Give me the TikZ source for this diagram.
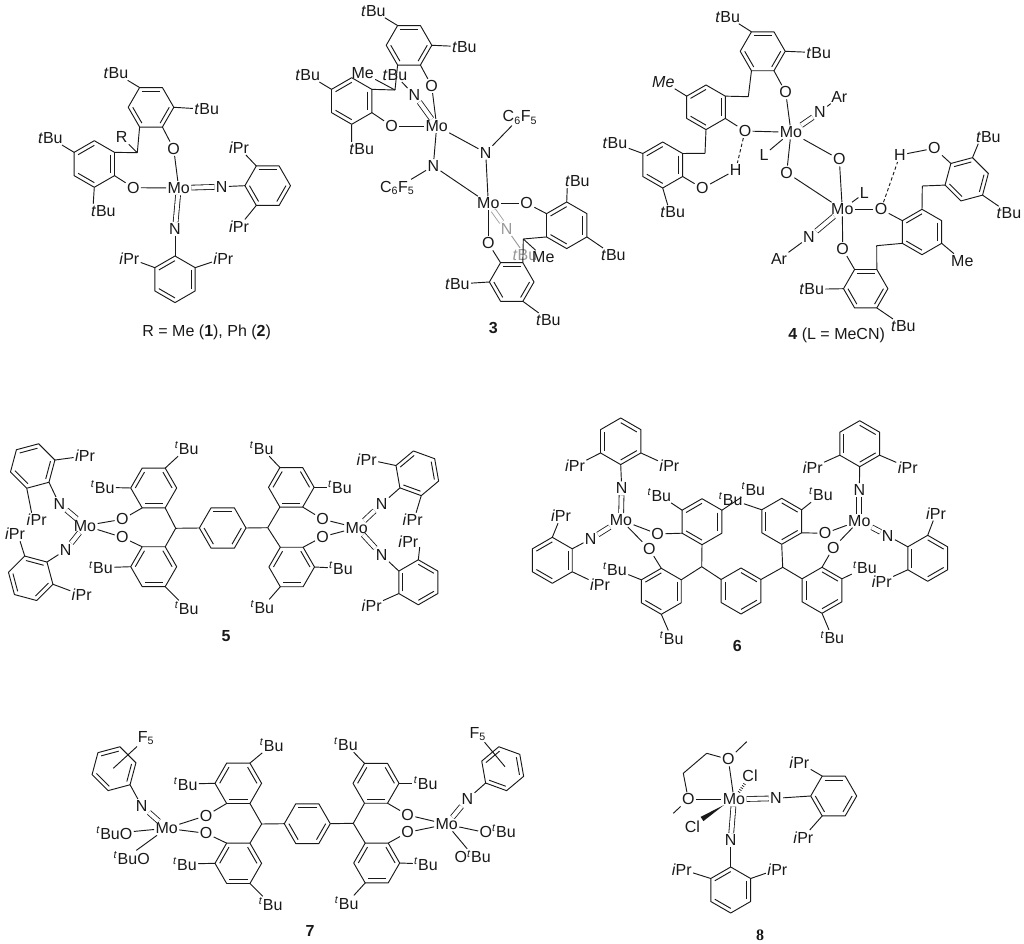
\documentclass[tikz,border=0pt]{standalone}
\usepackage{fontspec}
\setmainfont{Liberation Sans}
\newfontfamily\serifnum{Liberation Serif}
\usetikzlibrary{calc}
\newcommand\tBu{\textit{t}Bu}
\newcommand\iPr{\textit{i}Pr}
\newcommand\sBu{\textsuperscript{\textit{t}}Bu}
\newcommand\CF{C\textsubscript{6}F\textsubscript{5}}
\tikzset{
  bond/.style={line width=0.7pt,line join=round,black!90},
  dbl/.style={bond,double,double distance=3pt,line width=0.62pt},
  hbond/.style={bond,dashed,dash pattern=on 2.5pt off 1.8pt},
  atom/.style={inner sep=0.9pt,font=\fontsize{12}{13}\selectfont,text=black!90},
  grayatom/.style={atom,text=black!40},
  graybond/.style={bond,draw=black!40},
  graydbl/.style={dbl,draw=black!40},
  hash/.style={line width=2pt,black!90,dash pattern=on 0.5pt off 1.3pt},
  capt/.style={inner sep=0pt,font=\fontsize{12}{13}\selectfont,text=black!90},
}
% ring: name, cx, cy, radius, start angle (clockwise on screen)
\newcommand\hexa[5]{%
  \coordinate (#1c) at (#2,#3);
  \path (#2,#3) ++(#5:#4) coordinate (#10);
  \path (#2,#3) ++(#5+60:#4) coordinate (#11);
  \path (#2,#3) ++(#5+120:#4) coordinate (#12);
  \path (#2,#3) ++(#5+180:#4) coordinate (#13);
  \path (#2,#3) ++(#5+240:#4) coordinate (#14);
  \path (#2,#3) ++(#5+300:#4) coordinate (#15);
  \draw[bond] (#10)--(#11)--(#12)--(#13)--(#14)--(#15)--cycle;
  \draw[bond] ($(#10)!0.2!(#1c)$)--($(#11)!0.2!(#1c)$);
  \draw[bond] ($(#12)!0.2!(#1c)$)--($(#13)!0.2!(#1c)$);
  \draw[bond] ($(#14)!0.2!(#1c)$)--($(#15)!0.2!(#1c)$);
}
\newcommand\A[4]{\node[atom] (#1) at (#2,#3) {#4};}
\newcommand\Ctr[3]{\coordinate (#1) at (#2,#3);}
\newcommand\B[2]{\draw[bond] (#1) -- (#2);}
\newcommand\Dd[2]{\draw[dbl] (#1) -- (#2);}
\newcommand\Hb[2]{\draw[hbond] (#1) -- (#2);}
\begin{document}
\begin{tikzpicture}[x=0.75pt,y=-0.75pt]
\useasboundingbox (0,0) rectangle (1024,944);
\fill[white] (0,0) rectangle (1024,944);

%%%%%%%% 1
\hexa{a}{151}{107.3}{22.8}{0}
\hexa{b}{94.3}{164}{23.3}{-30}
\hexa{c}{267.7}{185.7}{22.8}{0}
\hexa{d}{175}{279.3}{23.3}{-30}
\Ctr{ach}{137.3}{152.7}
\A{aMo}{178.7}{188}{Mo}
\A{aO1}{173.7}{148.7}{O}
\A{aO2}{133.3}{187.7}{O}
\A{aN1}{221.7}{186.7}{N}
\A{aN2}{175}{229}{N}
\A{aR}{121.7}{137.3}{R}
\A{at1}{116}{73.3}{\tBu}
\A{at2}{206.7}{109.3}{\tBu}
\A{at3}{50.3}{138}{\tBu}
\A{at4}{103.3}{211}{\tBu}
\A{ai1}{239}{147.7}{\iPr}
\A{ai2}{239}{226.7}{\iPr}
\A{ai3}{129.3}{258.3}{\iPr}
\A{ai4}{223.3}{258.3}{\iPr}
\B{a4}{at1} \B{a0}{at2} \B{b4}{at3} \B{b2}{at4.145}
\B{a1}{aO1} \B{aO1}{aMo} \B{a2}{ach} \B{ach}{b0} \B{ach}{aR} \B{b1}{aO2} \B{aO2}{aMo}
\Dd{aMo}{aN1} \Dd{aMo}{aN2} \B{aN1}{c3} \B{aN2}{d5}
\B{c4}{ai1} \B{c2}{ai2} \B{d4}{ai3} \B{d0}{ai4}
\node[capt] (capA) at (206.7,332.7) {R = Me (\textbf{1}), Ph (\textbf{2})};

%%%%%%%% 3
\hexa{e}{409}{45.3}{22.8}{0}
\hexa{f}{351.7}{101}{23.3}{-30}
\hexa{g}{566.7}{225.3}{23.3}{-30}
\hexa{h}{511.7}{282}{22.3}{0}
\Ctr{ech}{395}{90}
\Ctr{gch}{523.3}{239}
\A{eMo}{436.7}{126}{Mo}
\A{eMo2}{488.3}{203.3}{Mo}
\A{eO1}{431.7}{86}{O}
\A{eO2}{391.7}{126}{O}
\A{eO3}{526.7}{203.3}{O}
\A{eO4}{488.3}{243.3}{O}
\A{eN1}{433.3}{166}{N}
\A{eN2}{485.7}{152.7}{N}
\A{eN3}{414.3}{95}{N}
\node[grayatom] (eN4) at (506.7,229) {N};
\node[grayatom] (et7) at (525,255) {\tBu};
\A{eMe}{362.7}{72.7}{Me}
\A{eMeb}{543.3}{257.3}{Me}
\A{et1}{373.3}{10.7}{\tBu}
\A{et2}{464.3}{46.7}{\tBu}
\A{et3}{395}{75}{\tBu}
\A{et4}{307.7}{75}{\tBu}
\A{et5}{361.7}{149}{\tBu}
\A{et6}{577.3}{181}{\tBu}
\A{et8}{613.3}{255}{\tBu}
\A{et9}{457.3}{284}{\tBu}
\A{et0}{548.3}{320}{\tBu}
\A{eC1}{520}{117.3}{\CF}
\A{eC2}{397.3}{187.7}{\CF}
\draw[graydbl] (eMo2) -- (eN4);
\draw[graybond] (eN4) -- (et7);
\B{e4}{et1} \B{e0}{et2} \B{e1}{eO1} \B{eO1}{eMo} \B{e2}{ech} \B{ech}{f0} \B{ech}{eMe}
\B{f1}{eO2} \B{eO2}{eMo} \B{f4}{et4} \B{f2}{et5.145}
\Dd{eMo}{eN3} \B{eN3}{et3}
\B{eMo}{eN1} \B{eMo}{eN2} \B{eN1}{eMo2} \B{eN2}{eMo2} \B{eN1}{eC2} \B{eN2}{eC1}
\B{eMo2}{eO3} \B{eMo2}{eO4} \B{eO3}{g4} \B{g5}{et6.215} \B{g1}{et8}
\B{g3}{gch} \B{gch}{h5} \B{gch}{eMeb} \B{eO4}{h4} \B{h3}{et9} \B{h1}{et0}
\node[capt] (capB) at (493.3,328.3) {\textbf{3}};

%%%%%%%% 4
\hexa{i}{762.7}{51.3}{22.5}{0}
\hexa{j}{706}{107.3}{22.3}{-30}
\hexa{k}{662.7}{165}{23}{-30}
\hexa{l}{966.7}{179.3}{22.4}{-15}
\hexa{m}{922}{232}{22.7}{-30}
\hexa{n}{865.7}{288.7}{22.2}{0}
\Ctr{ich}{748.3}{96.7}
\Ctr{jch}{705}{153.3}
\Ctr{lch}{922.3}{186}
\Ctr{mch}{876.7}{245.7}
\A{iMo}{791}{132.3}{Mo}
\A{iMo2}{842.3}{209.3}{Mo}
\A{iO1}{785.7}{92.3}{O}
\A{iO2}{745}{131}{O}
\A{iO3}{702.3}{188.3}{O}
\A{iO4}{786.7}{172.7}{O}
\A{iO5}{839.3}{159.3}{O}
\A{iO6}{881}{209.3}{O}
\A{iO7}{934.3}{148.3}{O}
\A{iO8}{842.7}{249}{O}
\A{iH1}{735.7}{170}{H}
\A{iH2}{900}{155}{H}
\A{iN1}{820}{112.3}{N}
\A{iN2}{809}{237.3}{N}
\A{iAr1}{839.3}{96.7}{Ar}
\A{iAr2}{779}{259.3}{Ar}
\A{iL1}{764}{155}{L}
\A{iL2}{864.3}{193.3}{L}
\A{iMe1}{663.3}{81.7}{\textit{Me}}
\A{iMe2}{962.3}{260.7}{Me}
\A{it1}{727.7}{16.7}{\tBu}
\A{it2}{818.7}{52.7}{\tBu}
\A{it3}{615}{143.3}{\tBu}
\A{it4}{672.7}{212.3}{\tBu}
\A{it5}{988.3}{136.7}{\tBu}
\A{it6}{1009}{213.3}{\tBu}
\A{it7}{811.7}{289.3}{\tBu}
\A{it8}{903.3}{326}{\tBu}
\B{i4}{it1} \B{i0}{it2} \B{i1}{iO1} \B{iO1}{iMo} \B{i2}{ich} \B{ich}{j0} \B{j4}{iMe1}
\B{j1}{iO2} \B{iO2}{iMo} \B{j2}{jch} \B{jch}{k0} \B{k4}{it3} \B{k2}{it4.125} \B{k1}{iO3} \B{iO3}{iH1}
\Hb{iO2}{iH1}
\Dd{iMo}{iN1} \B{iN1}{iAr1} \B{iMo}{iL1} \B{iMo}{iO4} \B{iMo}{iO5} \B{iO4}{iMo2} \B{iO5}{iMo2}
\B{iMo2}{iL2} \B{iMo2}{iO6} \B{iMo2}{iO8} \Dd{iMo2}{iN2} \B{iN2}{iAr2}
\Hb{iO6}{iH2} \B{iH2}{iO7} \B{iO7}{l4} \B{l5}{it5.215} \B{l1}{it6}
\B{l3}{lch} \B{lch}{m5} \B{iO6}{m4} \B{m1}{iMe2} \B{m3}{mch} \B{mch}{n5} \B{iO8}{n4}
\B{n3}{it7} \B{n1}{it8}
\node[capt] (capC) at (836.7,335.7) {\textbf{4} (L = MeCN)};

%%%%%%%% 5
\hexa{o}{32.7}{466}{23}{-15}
\hexa{p}{30.7}{578.3}{23}{15}
\hexa{q}{153.7}{488}{23}{60}
\hexa{r}{153.7}{566.7}{23}{60}
\hexa{s}{222.7}{528}{23.3}{0}
\hexa{t}{291.3}{487.3}{22.8}{60}
\hexa{u}{291.7}{567}{22.8}{60}
\hexa{v}{417.3}{473.3}{22.7}{80}
\hexa{w}{418.3}{582.3}{22.5}{30}
\Ctr{och}{175.7}{528.3}
\Ctr{ochb}{267.7}{527.7}
\A{oMo}{85}{525.7}{Mo}
\A{oMob}{356.7}{527.7}{Mo}
\A{oN1}{59.3}{504}{N}
\A{oN2}{65.7}{550}{N}
\A{oN3}{381.7}{504}{N}
\A{oN4}{381.7}{555}{N}
\A{oO1}{122.3}{519.3}{O}
\A{oO2}{122.3}{537.3}{O}
\A{oO3}{322.7}{519.3}{O}
\A{oO4}{322.7}{536.7}{O}
\A{oi1}{85}{456}{\iPr}
\A{oi2}{36.7}{520}{\iPr}
\A{oi3}{15}{534}{\iPr}
\A{oi4}{81.7}{595}{\textit{i}Pr}
\A{oi5}{366.7}{459.3}{\iPr}
\A{oi6}{412.7}{520}{\iPr}
\A{oi7}{408.3}{541.7}{\iPr}
\A{oi8}{371.7}{605.7}{\iPr}
\A{ot1}{186.7}{448.3}{\sBu}
\A{ot2}{102.7}{487.3}{\sBu}
\A{ot3}{186.7}{608.3}{\sBu}
\A{ot4}{101}{567.7}{\sBu}
\A{ot5}{261.7}{448.3}{\sBu}
\A{ot6}{340}{487.3}{\sBu}
\A{ot7}{262.3}{607.3}{\sBu}
\A{ot8}{341}{568.3}{\sBu}
\B{o0}{oi1} \B{o2}{oi2.125} \B{o1}{oN1} \Dd{oN1}{oMo} \Dd{oMo}{oN2} \B{oN2}{p5}
\B{p4}{oi3.305} \B{p0}{oi4}
\B{q4}{ot1} \B{q2}{ot2} \B{q1}{oO1} \B{oO1}{oMo} \B{q0}{och} \B{och}{r4} \B{r3}{oO2} \B{oO2}{oMo}
\B{r0}{ot3} \B{r2}{ot4} \B{och}{s3} \B{s0}{ochb}
\B{ochb}{t1} \B{ochb}{u3}
\B{t5}{ot6} \B{t3}{ot5} \B{t0}{oO3} \B{oO3}{oMob}
\B{u4}{oO4} \B{oO4}{oMob} \B{u5}{ot8} \B{u1}{ot7}
\Dd{oMob}{oN3} \Dd{oMob}{oN4} \B{oN3}{v1} \B{oN4}{w3}
\B{v2}{oi5} \B{v0}{oi6.65} \B{w4}{oi7.335} \B{w2}{oi8}
\node[capt] (capD) at (226,636) {\textbf{5}};

%%%%%%%% 6
\hexa{A}{620.7}{441.3}{23.3}{30}
\hexa{B}{552.3}{560.3}{23}{-30}
\hexa{C}{702}{521.7}{23}{90}
\hexa{D}{661.3}{591.3}{23}{90}
\hexa{E}{741}{591}{23}{30}
\hexa{F}{781.7}{521.3}{23}{30}
\hexa{G}{822}{590.3}{23}{30}
\hexa{H}{859.7}{443.7}{23}{30}
\hexa{I}{927.7}{558.3}{23}{30}
\Ctr{Ach}{701.7}{566.7}
\Ctr{Achb}{782.7}{567.3}
\A{AMo}{621}{520}{Mo}
\A{AMob}{859.3}{520.7}{Mo}
\A{AN1}{621.7}{488.3}{N}
\A{AN2}{590.7}{539}{N}
\A{AN3}{859.3}{490}{N}
\A{AN4}{887.7}{535.7}{N}
\A{AO1}{657.7}{534}{O}
\A{AO2}{649.3}{549}{O}
\A{AO3}{825}{533.3}{O}
\A{AO4}{833.3}{547.7}{O}
\A{Ai1}{575}{466}{\iPr}
\A{Ai2}{669.3}{466}{\iPr}
\A{Ai3}{561}{516}{\iPr}
\A{Ai4}{600}{585}{\iPr}
\A{Ai5}{812.7}{467.3}{\iPr}
\A{Ai6}{907.7}{467.3}{\iPr}
\A{Ai7}{936}{513.3}{\iPr}
\A{Ai8}{881.7}{581.7}{\iPr}
\A{At1}{659.3}{495}{\sBu}
\A{At2}{730.7}{499.3}{\sBu}
\A{At3}{753.3}{489.3}{\sBu}
\A{At4}{615}{569.3}{\sBu}
\A{At5}{671.7}{638.3}{\sBu}
\A{At6}{821}{494.3}{\sBu}
\A{At7}{865}{567.7}{\sBu}
\A{At8}{832.3}{637.7}{\sBu}
\B{A1}{AN1} \B{A2}{Ai1} \B{A0}{Ai2} \Dd{AN1}{AMo} \Dd{AMo}{AN2} \B{AN2}{B0}
\B{B5}{Ai3} \B{B1}{Ai4}
\B{AMo}{AO1} \B{AMo}{AO2} \B{AO1}{C1} \B{AO2}{D3}
\B{C2}{At1} \B{C4}{At3} \B{F3}{At2}
\B{C0}{Ach} \B{Ach}{D4} \B{Ach}{E3} \B{D2}{At4} \B{D0}{At5}
\B{E5}{Achb} \B{Achb}{F1} \B{Achb}{G3}
\B{F0}{AO3} \B{F5}{At6} \B{G4}{AO4} \B{G5}{At7} \B{G1}{At8}
\B{AO3}{AMob} \B{AO4}{AMob} \Dd{AN3}{AMob} \Dd{AMob}{AN4}
\B{H1}{AN3} \B{H2}{Ai5} \B{H0}{Ai6} \B{AN4}{I3} \B{I4}{Ai7} \B{I2}{Ai8}
\node[capt] (capE) at (737.3,646) {\textbf{6}};

%%%%%%%% 7
\hexa{J}{114}{768.7}{22.7}{-15}
\hexa{K}{238.3}{783.3}{23.3}{60}
\hexa{L}{238.3}{863.3}{23.3}{60}
\hexa{M}{307.3}{823.7}{23}{0}
\hexa{N}{376}{783.3}{23}{60}
\hexa{P}{376.7}{863}{23}{60}
\hexa{Q}{502.7}{768.7}{22.3}{80}
\Ctr{Jch}{261.7}{824}
\Ctr{Jchb}{353.3}{823.3}
\Ctr{JF}{113.3}{768.3}
\Ctr{QF}{505}{766.7}
\A{JMo}{166.7}{828.3}{Mo}
\A{JMob}{446.7}{824.3}{Mo}
\A{JN}{141.7}{806}{N}
\A{JNb}{467.3}{799.3}{N}
\A{JFa}{146}{738.3}{F\textsubscript{5}}
\A{JFb}{477.7}{734}{F\textsubscript{5}}
\A{JO1}{206}{815.7}{O}
\A{JO2}{206}{833.3}{O}
\A{JO3}{407.7}{815}{O}
\A{JO4}{407.7}{832.3}{O}
\A{JB1}{114.3}{833.3}{\sBu O}
\A{JB2}{131.7}{858.3}{\sBu O}
\A{JB3}{497.7}{831}{O\sBu}
\A{JB4}{472.7}{856.7}{O\sBu}
\A{Jt1}{271.7}{745}{\sBu}
\A{Jt2}{185.7}{784}{\sBu}
\A{Jt3}{270.7}{904.3}{\sBu}
\A{Jt4}{185}{864}{\sBu}
\A{Jt5}{346}{744.3}{\sBu}
\A{Jt6}{425.7}{783.3}{\sBu}
\A{Jt7}{346.7}{903.3}{\sBu}
\A{Jt8}{426}{864}{\sBu}
\B{JF}{JFa} \B{QF}{JFb} \B{J1}{JN} \Dd{JN}{JMo} \B{JMo}{JB1} \B{JMo}{JB2.60}
\B{JMo}{JO1} \B{JMo}{JO2} \B{JO1}{K1} \B{JO2}{L3}
\B{K4}{Jt1} \B{K2}{Jt2} \B{K0}{Jch} \B{Jch}{L4} \B{L0}{Jt3} \B{L2}{Jt4} \B{Jch}{M3}
\B{M0}{Jchb} \B{Jchb}{N1} \B{Jchb}{P3}
\B{N3}{Jt5} \B{N5}{Jt6} \B{N0}{JO3} \B{P1}{Jt7} \B{P5}{Jt8} \B{P4}{JO4}
\B{JO3}{JMob} \B{JO4}{JMob} \Dd{JMob}{JNb} \B{JNb}{Q1}
\B{JMob}{JB3.180} \B{JMob}{JB4.125}
\node[capt] (capF) at (310,930.7) {\textbf{7}};

%%%%%%%% 8
\hexa{R}{833.7}{796}{23}{0}
\hexa{S}{730.7}{890}{23}{-30}
\Ctr{Rm1}{746.7}{741.7}
\Ctr{Rc1}{706.7}{753.3}
\Ctr{Rc2}{683.3}{773.3}
\Ctr{Rm2}{673.3}{813.3}
\A{RMo}{734}{799.3}{Mo}
\A{RO1}{728.3}{759.3}{O}
\A{RO2}{688.3}{799.3}{O}
\A{RCl1}{750}{776}{Cl}
\A{RCl2}{692.3}{826.7}{Cl}
\A{RN1}{776}{798.3}{N}
\A{RN2}{730.7}{840}{N}
\A{Ri1}{799.3}{762.7}{\iPr}
\A{Ri2}{803.3}{837.3}{\iPr}
\A{Ri3}{681.7}{869.3}{\iPr}
\A{Ri4}{777.3}{869.3}{\iPr}
\B{RMo}{RO1} \B{RO1}{Rm1} \B{RO1}{Rc1} \draw[bond] (Rc1)--(Rc2)--(RO2); \B{RO2}{Rm2} \B{RO2}{RMo}
\draw[hash] (RMo) -- (RCl1);
\fill[black!90] (724,805) -- (700.6,816.9) -- (703.4,821.1) -- cycle;
\Dd{RMo}{RN1} \Dd{RMo}{RN2} \B{RN1}{R3} \B{RN2}{S5}
\B{R4}{Ri1} \B{R2}{Ri2} \B{S4}{Ri3} \B{S0}{Ri4}
\node[capt,font=\fontsize{12}{13}\serifnum\bfseries] (capG) at (760,935.7) {8};
\end{tikzpicture}
\end{document}
